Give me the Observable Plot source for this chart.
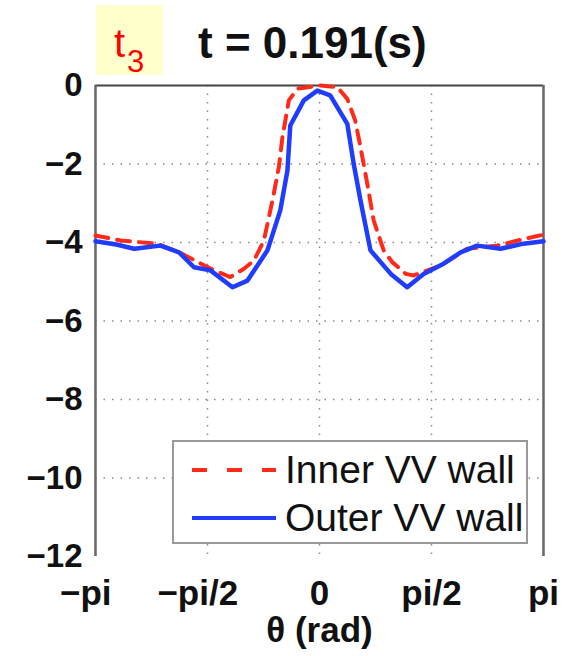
<!DOCTYPE html>
<html>
<head>
<meta charset="utf-8">
<script src="https://cdn.jsdelivr.net/npm/d3@7"></script>
<script src="https://cdn.jsdelivr.net/npm/@observablehq/plot@0.6"></script>
<style>
  body { margin: 0; background: #fff; }
  #wrap { position: relative; width: 570px; height: 656px; font-family: "Liberation Sans", Arial, sans-serif; }
  #tag { position: absolute; left: 96px; top: 5px; width: 67px; height: 70px; background: #ffffcc; }
  #tag .t { position: absolute; left: 18px; top: 18px; line-height: 1; color: #ff0000; font-size: 40px; }
  #tag .s { position: absolute; left: 31px; top: 41px; line-height: 1; color: #ff0000; font-size: 31px; }
  #title { position: absolute; left: 198px; top: 21px; line-height: 1; font-size: 44px; font-weight: bold; color: #111; white-space: nowrap; }
  #legend { position: absolute; left: 172px; top: 440px; width: 356px; height: 104px; background: #fff; border: 2px solid #999; box-sizing: border-box; }
  #legend svg { position: absolute; left: 0; top: 0; }
</style>
</head>
<body>
<div id="wrap">
  <div id="chart"></div>
  <div id="tag"><span class="t">t</span><span class="s">3</span></div>
  <div id="title">t = 0.191(s)</div>
  <div id="legend"></div>
</div>
<script>
const thetaInner = [-3.1416, -2.79, -2.28, -1.97, -1.48, -1.25, -1.06, -0.92, -0.78, -0.66, -0.57, -0.52, -0.43, -0.31, 0, 0.25, 0.39, 0.50, 0.575, 0.67, 0.76, 0.9, 1.02, 1.21, 1.32, 1.70, 2.07, 2.49, 2.78, 3.1416];
const innerWall = [-3.82, -3.95, -4.03, -4.25, -4.71, -4.88, -4.67, -4.46, -3.95, -2.93, -2.08, -1.32, -0.38, -0.08, 0.0, -0.04, -0.34, -0.89, -1.57, -2.5, -3.44, -4.2, -4.5, -4.8, -4.84, -4.59, -4.16, -4.08, -3.95, -3.8];
const thetaOuter = [-3.1416, -2.85, -2.60, -2.23, -1.97, -1.76, -1.53, -1.22, -1.01, -0.73, -0.55, -0.45, -0.41, -0.22, -0.03, 0.15, 0.39, 0.48, 0.575, 0.715, 1.0, 1.23, 1.46, 1.74, 1.98, 2.21, 2.54, 2.86, 3.1416];
const outerWall = [-3.97, -4.05, -4.16, -4.08, -4.25, -4.63, -4.71, -5.14, -4.97, -4.2, -3.18, -2.17, -1.02, -0.38, -0.13, -0.25, -0.98, -2.0, -2.93, -4.2, -4.8, -5.14, -4.8, -4.54, -4.25, -4.08, -4.16, -4.03, -3.97];
const xTicks = [-Math.PI, -Math.PI / 2, 0, Math.PI / 2, Math.PI];
const xTickLabels = ["\u2212pi", "\u2212pi/2", "0", "pi/2", "pi"];
const yTicks = [0, -2, -4, -6, -8, -10, -12];
const seriesNames = ["Inner VV wall", "Outer VV wall"];
const seriesColors = ["#ff2a1a", "#1f3cff"];

const inner = thetaInner.map((t, i) => ({theta: t, v: innerWall[i]}));
const outer = thetaOuter.map((t, i) => ({theta: t, v: outerWall[i]}));
const font = "Liberation Sans, Arial, sans-serif";
// Matlab centres the label body; the minus sign hangs to the left, so pad the right side
const padLabel = s => s.startsWith("\u2212") ? s + "\u2007" : s;

const chart = Plot.plot({
  width: 570,
  height: 656,
  marginTop: 85,
  marginLeft: 95,
  marginRight: 27,
  marginBottom: 100,
  style: {fontFamily: font, background: "#fff"},
  x: {domain: [-Math.PI, Math.PI]},
  y: {domain: [-12, 0]},
  marks: [
    Plot.gridX(xTicks.slice(1, -1), {stroke: "#888", strokeOpacity: 1, strokeWidth: 1.5, strokeDasharray: "1.5,7"}),
    Plot.gridY(yTicks.slice(1, -1), {stroke: "#888", strokeOpacity: 1, strokeWidth: 1.5, strokeDasharray: "1.5,7"}),
    Plot.ruleY([0], {stroke: "#444", strokeWidth: 2}),
    Plot.ruleX([-Math.PI, Math.PI], {stroke: "#666", strokeWidth: 2.5}),
    Plot.line(inner, {x: "theta", y: "v", stroke: seriesColors[0], strokeWidth: 4, strokeDasharray: "13,9"}),
    Plot.line(outer, {x: "theta", y: "v", stroke: seriesColors[1], strokeWidth: 4.5}),
    Plot.axisY({ticks: yTicks, tickSize: 0, tickPadding: 13, fontSize: 33, fontWeight: "bold", tickFormat: d => d < 0 ? "\u2212" + Math.abs(d) : String(d), label: null, fill: "#111"}),
    Plot.axisX({ticks: xTicks, tickSize: 0, tickPadding: 24, fontSize: 35, fontWeight: "bold", tickFormat: (d, i) => padLabel(xTickLabels[i]), label: null, fill: "#111"}),
    Plot.text(["\u03b8 (rad)"], {frameAnchor: "bottom", dy: 85, fontSize: 35, fontWeight: "bold", fill: "#111"})
  ]
});
document.getElementById("chart").appendChild(chart);

// legend
const lg = d3.select("#legend").append("svg").attr("width", 356).attr("height", 104);
seriesNames.forEach((name, i) => {
  const y = 28 + i * 48;
  lg.append("line").attr("x1", 18).attr("x2", 102).attr("y1", y).attr("y2", y)
    .attr("stroke", seriesColors[i]).attr("stroke-width", 4)
    .attr("stroke-dasharray", i === 0 ? "15,20" : null);
  lg.append("text").attr("x", 111).attr("y", y + 13).text(name)
    .attr("font-family", font).attr("font-size", 39).attr("fill", "#111");
});
</script>
</body>
</html>
